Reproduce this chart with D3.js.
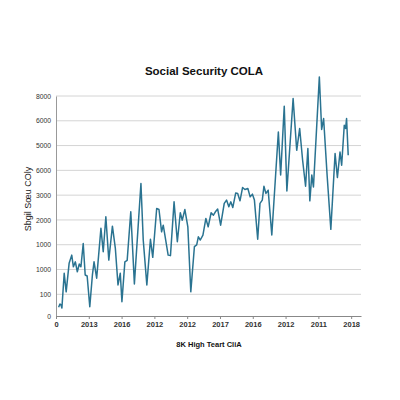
<!DOCTYPE html>
<html>
<head>
<meta charset="utf-8">
<script src="https://cdn.jsdelivr.net/npm/d3@7"></script>
<style>
    body { margin: 0; background: #fff; }
    svg { font-family: "Liberation Sans", Arial, sans-serif; }
</style>
</head>
<body>
<div id="chart"></div>
<script>
// position along the time axis (tick units) and value (gridline units of 1000)
var xVals = [0.08, 0.12, 0.15, 0.18, 0.25, 0.31, 0.40, 0.48, 0.53, 0.59, 0.65, 0.71, 0.76, 0.83, 0.89, 0.95,
    1.03, 1.11, 1.16, 1.24, 1.37, 1.44, 1.52, 1.61, 1.72, 1.81, 1.89, 1.96, 2.01, 2.10, 2.17, 2.28, 2.39,
    2.59, 2.66, 2.77, 2.88, 2.95, 3.07, 3.14, 3.22, 3.27, 3.32, 3.42, 3.49, 3.60, 3.70, 3.79, 3.85, 3.93,
    4.02, 4.11, 4.22, 4.29, 4.34, 4.40, 4.48, 4.57, 4.64, 4.73, 4.80, 4.86, 4.93, 5.02, 5.13, 5.20, 5.27,
    5.33, 5.39, 5.48, 5.54, 5.61, 5.69, 5.76, 5.85, 5.92, 5.99, 6.05, 6.15, 6.22, 6.29, 6.34, 6.40, 6.47,
    6.58, 6.78, 6.85, 6.96, 7.04, 7.23, 7.34, 7.43, 7.52, 7.61, 7.68, 7.74, 7.80, 7.85, 8.03, 8.10, 8.16,
    8.27, 8.38, 8.51, 8.58, 8.66, 8.71, 8.79, 8.83, 8.86, 8.91];
var yVals = [400, 550, 520, 370, 1850, 1100, 2250, 2580, 2110, 2310, 1910, 2220, 2110, 3050, 1780, 1740,
    430, 1780, 2310, 1650, 3660, 2720, 4130, 2380, 3750, 2850, 1380, 1850, 660, 2310, 2370, 4330, 1420,
    5470, 3190, 1380, 3220, 2490, 4460, 4420, 3520, 3790, 3390, 2580, 2560, 4730, 3120, 4290, 3990, 4420,
    3720, 1100, 2920, 2990, 3320, 3190, 3390, 4060, 3720, 4290, 4190, 4330, 4440, 3790, 4670, 4800, 4530,
    4730, 4500, 5090, 5070, 4770, 5310, 5230, 5270, 4930, 5040, 4800, 3220, 4670, 4800, 5360, 5070, 5200,
    3390, 7550, 5810, 8590, 5170, 8900, 6810, 7690, 6410, 5360, 6880, 4770, 5810, 5330, 9770, 7650, 8090,
    5740, 3620, 6680, 5710, 6740, 6210, 7820, 7690, 8090, 6610];

var xTicks = [0, 1, 2, 3, 4, 5, 6, 7, 8, 9];
var xTickLabels = ["0", "2013", "2016", "2012", "2012", "2017", "2016", "2012", "2011", "2018"];
var yTicks = [0, 1000, 2000, 3000, 4000, 5000, 6000, 7000, 8000, 9000];
var yTickLabels = ["0", "100", "1000", "1000", "2000", "3000", "6000", "5000", "6000", "8000"];

var width = 400;
var height = 400;

var margin = {
    top: 96,
    bottom: 84,
    left: 56,
    right: 39
};

var svg = d3.select("#chart")
    .append("svg")
    .attr("width", width)
    .attr("height", height);

var innerW = width - margin.left - margin.right;
var innerH = height - margin.top - margin.bottom;

var xScale = d3.scaleLinear()
    .domain([0, 9.3])
    .range([0, innerW]);

// first band is a little shorter than the others
var yScale = d3.scaleLinear()
    .domain([0, 1000, 9000])
    .range([innerH, innerH - 21.7, 0]);

var g = svg.append("g")
    .attr("transform", "translate(" + margin.left + "," + margin.top + ")");

// gridlines
g.selectAll(".grid")
    .data(yTicks.slice(1))
    .enter()
    .append("line")
    .attr("class", "grid")
    .attr("x1", 0)
    .attr("x2", innerW)
    .attr("y1", function(d) { return yScale(d); })
    .attr("y2", function(d) { return yScale(d); })
    .attr("stroke", "#d4d4d4")
    .attr("stroke-width", 1);

var yAxis = d3.axisLeft(yScale)
    .tickValues(yTicks)
    .tickSize(0)
    .tickPadding(5)
    .tickFormat(function(d, i) { return yTickLabels[i]; });

var yG = g.append("g")
    .attr("class", "y axis")
    .call(yAxis);
yG.select(".domain").attr("stroke", "#999");
yG.selectAll(".tick text")
    .attr("font-size", "6.8px")
    .attr("fill", "#333")
    .attr("font-family", "Liberation Sans, Arial, sans-serif");

var xAxis = d3.axisBottom(xScale)
    .tickValues(xTicks)
    .tickSize(3)
    .tickPadding(3)
    .tickSizeOuter(0)
    .tickFormat(function(d, i) { return xTickLabels[i]; });

var xG = g.append("g")
    .attr("class", "x axis")
    .attr("transform", "translate(0," + innerH + ")")
    .call(xAxis);
xG.select(".domain").attr("stroke", "#888");
xG.selectAll(".tick line").attr("stroke", "#888");
xG.selectAll(".tick text")
    .attr("font-size", "7.5px")
    .attr("font-weight", "bold")
    .attr("fill", "#333")
    .attr("font-family", "Liberation Sans, Arial, sans-serif");

var line = d3.line()
    .x(function(d, i) { return xScale(xVals[i]); })
    .y(function(d) { return yScale(d); });

g.append("path")
    .datum(yVals)
    .attr("d", line)
    .attr("fill", "none")
    .attr("stroke", "#2a7391")
    .attr("stroke-width", 1.5)
    .attr("stroke-linejoin", "round");

svg.append("text")
    .attr("x", 204)
    .attr("y", 75)
    .attr("text-anchor", "middle")
    .attr("font-size", "11.5px")
    .attr("font-weight", "bold")
    .attr("fill", "#111")
    .text("Social Security COLA");

svg.append("text")
    .attr("x", 209)
    .attr("y", 347)
    .attr("text-anchor", "middle")
    .attr("font-size", "7.5px")
    .attr("font-weight", "bold")
    .attr("fill", "#111")
    .text("8K High Teart CliA");

svg.append("text")
    .attr("transform", "translate(31,199) rotate(-90)")
    .attr("text-anchor", "middle")
    .attr("font-size", "9px")
    .attr("fill", "#222")
    .text("Sbgil Sœu COly");
</script>
</body>
</html>
